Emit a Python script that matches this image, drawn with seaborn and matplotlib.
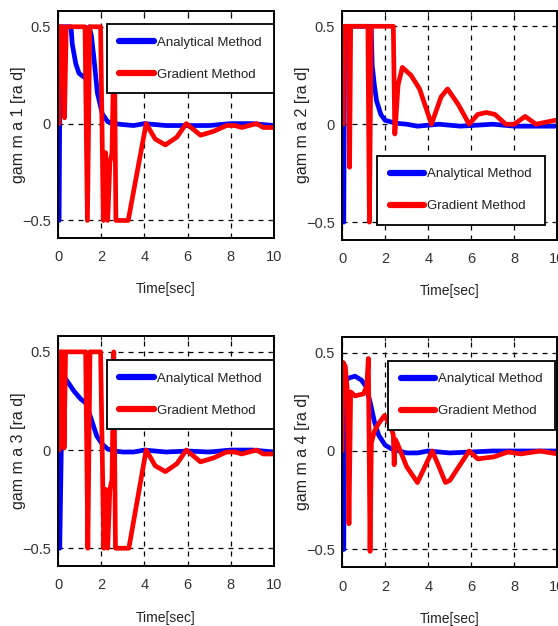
import matplotlib
matplotlib.use('Agg')
import matplotlib.pyplot as plt
import seaborn as sns

# ==================== DATA ====================

# gamma 1
g1_ana_t = [0, 0.05, 0.1, 0.3, 0.6, 0.66, 0.82, 0.97, 1.2, 1.28, 1.45, 1.55, 1.67, 1.82, 2.05, 2.3, 2.6, 3.0, 3.5, 4.0, 5.0, 6.0, 7.0, 8.0, 9.0, 10]
g1_ana_v = [-0.5, -0.5, 0.5, 0.5, 0.5, 0.41, 0.31, 0.26, 0.24, 0.24, 0.5, 0.45, 0.33, 0.16, 0.05, 0.01, 0.0, -0.005, -0.01, 0.0, -0.01, -0.01, -0.01, 0.0, 0.0, -0.01]
g1_grad_t = [0, 0.05, 0.07, 0.25, 0.3, 0.38, 1.25, 1.36, 1.47, 1.97, 2.1, 2.2, 2.3, 2.4, 2.5, 2.6, 2.68, 3.25, 4.08, 4.5, 4.97, 5.5, 5.94, 6.6, 7.2, 7.8, 8.2, 8.5, 9.2, 9.5, 10]
g1_grad_v = [0, 0, 0.5, 0.5, 0.03, 0.5, 0.5, -0.5, 0.5, 0.5, -0.5, -0.15, -0.5, -0.2, -0.15, 0.5, -0.5, -0.5, 0.0, -0.08, -0.11, -0.07, 0.0, -0.06, -0.04, -0.01, -0.01, -0.02, 0.0, -0.02, -0.02]

# gamma 2
g2_ana_t = [0, 0.08, 0.12, 1.3, 1.35, 1.4, 1.5, 1.6, 1.8, 2.0, 2.5, 3.0, 3.5, 4.5, 5.5, 7.0, 8.0, 10]
g2_ana_v = [-0.5, -0.5, 0.5, 0.5, 0.5, 0.3, 0.2, 0.12, 0.05, 0.02, 0.005, 0.0, -0.01, 0.0, -0.01, 0.0, -0.01, -0.01]
g2_grad_t = [0, 0.05, 0.08, 0.3, 0.35, 0.4, 1.2, 1.27, 1.35, 2.38, 2.45, 2.6, 2.8, 3.2, 3.6, 4.15, 4.6, 4.9, 5.4, 5.9, 6.3, 6.7, 7.1, 7.6, 8.0, 8.5, 9.0, 9.9]
g2_grad_v = [0, 0, 0.5, 0.5, -0.22, 0.5, 0.5, -0.5, 0.5, 0.5, -0.05, 0.2, 0.29, 0.25, 0.18, 0.0, 0.14, 0.18, 0.1, 0.0, 0.05, 0.06, 0.05, 0.0, 0.0, 0.04, 0.0, 0.02]

# gamma 3
g3_ana_t = [0, 0.08, 0.15, 0.23, 0.43, 0.74, 1.05, 1.28, 1.5, 1.8, 2.05, 2.3, 2.6, 3.0, 3.5, 4.0, 5.0, 6.0, 7.0, 8.0, 9.0, 10]
g3_ana_v = [-0.5, -0.5, 0.0, 0.38, 0.35, 0.3, 0.26, 0.24, 0.17, 0.07, 0.03, 0.005, -0.005, -0.01, -0.01, 0.0, -0.01, -0.005, -0.01, 0.0, 0.0, -0.01]
g3_grad_t = [0, 0.05, 0.07, 0.25, 0.28, 0.35, 1.28, 1.38, 1.48, 1.97, 2.12, 2.2, 2.3, 2.4, 2.5, 2.58, 2.66, 3.28, 4.08, 4.5, 4.97, 5.5, 5.94, 6.6, 7.2, 7.8, 8.2, 8.5, 9.2, 9.5, 10]
g3_grad_v = [0, 0, 0.5, 0.5, 0.01, 0.5, 0.5, -0.5, 0.5, 0.5, -0.5, -0.2, -0.5, -0.2, -0.15, 0.5, -0.5, -0.5, 0.0, -0.08, -0.11, -0.07, 0.0, -0.06, -0.04, -0.01, -0.01, -0.02, 0.0, -0.02, -0.02]

# gamma 4
g4_ana_t = [0, 0.08, 0.12, 0.3, 0.6, 0.9, 1.1, 1.3, 1.5, 1.7, 2.0, 2.3, 3.0, 3.5, 4.0, 5.0, 6.0, 7.0, 9.0, 10]
g4_ana_v = [-0.5, -0.5, 0.35, 0.37, 0.38, 0.36, 0.33, 0.25, 0.15, 0.08, 0.03, 0.01, -0.01, -0.01, 0.0, -0.01, -0.005, 0.0, 0.0, 0.0]
g4_grad_t = [0, 0.05, 0.15, 0.25, 0.32, 0.4, 0.6, 1.0, 1.15, 1.22, 1.26, 1.3, 1.36, 1.5, 1.7, 1.97, 2.28, 2.38, 2.42, 2.46, 2.56, 3.0, 3.5, 4.19, 4.5, 4.8, 5.0, 5.9, 6.3, 7.05, 7.7, 8.3, 9.2, 10]
g4_grad_v = [0.0, 0.45, 0.43, 0.3, -0.37, 0.3, 0.28, 0.29, 0.33, 0.47, 0.0, -0.51, 0.04, 0.1, 0.14, 0.18, 0.12, 0.08, -0.07, 0.06, 0.04, -0.08, -0.16, 0.0, -0.08, -0.16, -0.15, 0.0, -0.04, -0.03, -0.005, -0.015, 0.0, -0.015]

ylabels = ['gam m a 1 [ra d]', 'gam m a 2 [ra d]', 'gam m a 3 [ra d]', 'gam m a 4 [ra d]']
legend_labels = ['Analytical Method', 'Gradient Method']
xticks = [0, 2, 4, 6, 8, 10]
yticks = [-0.5, 0, 0.5]
ytick_labels = ['\u22120.5', '0', '0.5']

# ==================== STYLE ====================

sns.set_style('white')
plt.rcParams['font.family'] = ['Liberation Sans', 'DejaVu Sans']

fig = plt.figure(figsize=(5.58, 6.26), dpi=100)

# axes boxes in figure fraction
positions = [
    [0.104, 0.620, 0.387, 0.362],
    [0.613, 0.617, 0.386, 0.366],
    [0.104, 0.096, 0.387, 0.367],
    [0.613, 0.094, 0.386, 0.368],
]
legend_anchor = [
    ('upper right', (1.0, 0.945)),
    ('lower right', (0.94, 0.065)),
    ('upper right', (1.0, 0.897)),
    ('upper right', (0.99, 0.897)),
]

series = [
    (g1_ana_t, g1_ana_v, g1_grad_t, g1_grad_v),
    (g2_ana_t, g2_ana_v, g2_grad_t, g2_grad_v),
    (g3_ana_t, g3_ana_v, g3_grad_t, g3_grad_v),
    (g4_ana_t, g4_ana_v, g4_grad_t, g4_grad_v),
]

for i, (at, av, gt, gv) in enumerate(series):
    ax = fig.add_axes(positions[i])

    sns.lineplot(x=at, y=av, ax=ax, color='#0000ff', lw=3.4,
                 sort=False, estimator=None, label=legend_labels[0])
    sns.lineplot(x=gt, y=gv, ax=ax, color='#ff0000', lw=3.4,
                 sort=False, estimator=None, label=legend_labels[1])

    ax.set_xlim(0, 10)
    ax.set_ylim(-0.59, 0.58)
    ax.set_xticks(xticks)
    ax.set_yticks(yticks)
    ax.set_yticklabels(ytick_labels)

    ax.grid(True, color='black', linestyle=(0, (4, 4)), linewidth=0.9)
    ax.tick_params(direction='in', length=3, width=0.8, labelsize=10.5,
                   labelcolor='#333333', top=True, right=True)
    ax.tick_params(axis='x', pad=9)
    ax.tick_params(axis='y', pad=5)
    for sp in ax.spines.values():
        sp.set_color('black')
        sp.set_linewidth(1.4)

    ax.set_xlabel('Time[sec]', fontsize=10, color='#222222')
    ax.xaxis.set_label_coords(0.5, -0.195)
    ax.set_ylabel(ylabels[i], fontsize=11.5, color='#222222')
    ax.yaxis.set_label_coords(-0.15, 0.5)

    loc, anchor = legend_anchor[i]
    leg = ax.legend(loc=loc, bbox_to_anchor=anchor, frameon=True,
                    fancybox=False, edgecolor='black', framealpha=1,
                    fontsize=9.5, handlelength=2.6, handletextpad=0.25,
                    labelspacing=1.5, borderpad=0.95, borderaxespad=0)
    leg.get_frame().set_linewidth(1.3)
    for line in leg.get_lines():
        line.set_linewidth(4.5)
    for txt in leg.get_texts():
        txt.set_color('#222222')

plt.savefig('out.png', dpi=100)
